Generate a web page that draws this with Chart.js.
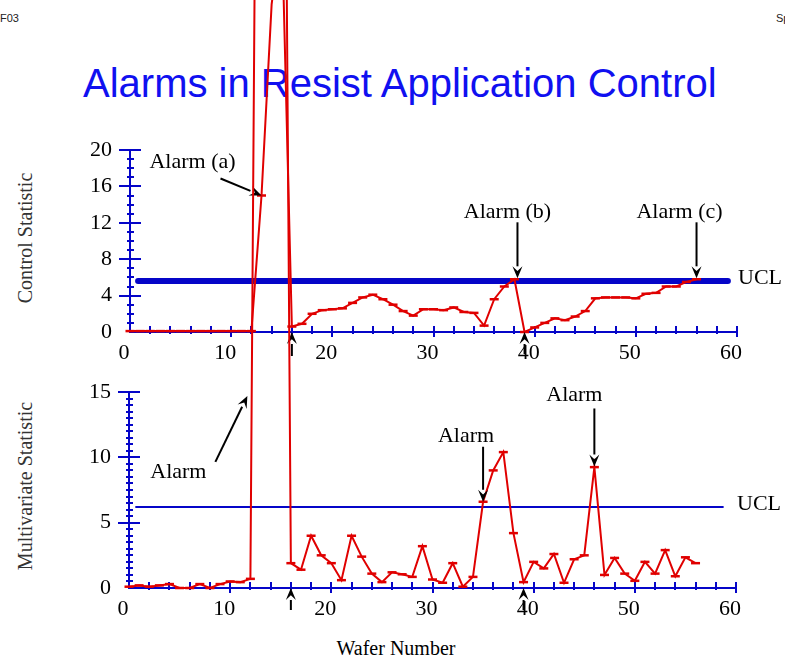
<!DOCTYPE html>
<html>
<head>
<meta charset="utf-8">
<title>Alarms in Resist Application Control</title>
<script src="https://cdn.jsdelivr.net/npm/chart.js@4.4.1/dist/chart.umd.min.js"></script>
<style>
  html, body { margin: 0; padding: 0; background: #fff; }
  #page { position: relative; width: 785px; height: 661px; overflow: hidden; font-family: "Liberation Serif", "Times New Roman", serif; }
  canvas { position: absolute; left: 0; top: 0; }
  .txt { position: absolute; white-space: nowrap; }
  #title { left: 83px; top: 63px; font: 40px/40px "Liberation Sans", Arial, sans-serif; color: #1010f0; }
  #corner-l { left: 0; top: 12px; font: 11px "Liberation Sans", Arial, sans-serif; color: #222; }
  #corner-r { left: 776px; top: 12px; font: 11px "Liberation Sans", Arial, sans-serif; color: #222; }
  .ytitle { font-size: 20px; color: #333; transform: translate(-50%, -50%) rotate(-90deg); }
  #xtitle { left: 396px; top: 648px; font-size: 20px; transform: translate(-50%, -50%); }
</style>
</head>
<body>
<div id="page">
  <div class="txt" id="title">Alarms in Resist Application Control</div>
  <div class="txt" id="corner-l">F03</div>
  <div class="txt" id="corner-r">Sp</div>
  <div class="txt ytitle" style="left:25px; top:238px;">Control Statistic</div>
  <div class="txt ytitle" style="left:25px; top:486px;">Multivariate Statistic</div>
  <div class="txt" id="xtitle">Wafer Number</div>
  <canvas id="cusumChart" width="785" height="661"></canvas>
  <canvas id="t2Chart" width="785" height="661"></canvas>
</div>
<script>
// wafer index along both x axes
const wafers = [0, 1, 2, 3, 4, 5, 6, 7, 8, 9, 10, 11, 12, 13, 14, 15, 16, 17, 18, 19,
  20, 21, 22, 23, 24, 25, 26, 27, 28, 29, 30, 31, 32, 33, 34, 35, 36, 37, 38, 39,
  40, 41, 42, 43, 44, 45, 46, 47, 48, 49, 50, 51, 52, 53, 54, 55, 56];

// upper chart: univariate control statistic
const cusumValues = [0.1, 0.1, 0.1, 0.1, 0.1, 0.1, 0.1, 0.1, 0.1, 0.1, 0.1, 0.1, 0.1,
  15, 36, 45, 0.6, 0.9, 2.0, 2.4, 2.5, 2.6, 3.2, 3.8, 4.1, 3.6, 3.0, 2.3, 1.8, 2.5,
  2.5, 2.4, 2.7, 2.2, 2.1, 0.7, 3.6, 5.0, 5.8, 0.0, 0.5, 1.0, 1.5, 1.3, 1.7, 2.3,
  3.7, 3.8, 3.8, 3.8, 3.7, 4.2, 4.3, 5.0, 5.0, 5.5, 5.8];
const cusumUcl = 5.6;
const cusumUclSpan = [0.8, 59.1];
const cusumTicks = [0, 4, 8, 12, 16, 20];

// lower chart: multivariate statistic
const t2Values = [0.1, 0.2, 0.1, 0.2, 0.3, 0.0, 0.0, 0.3, 0.0, 0.3, 0.5, 0.45, 0.7,
  110, 100, 110, 1.9, 1.4, 4.0, 2.5, 1.9, 0.6, 4.0, 2.4, 1.1, 0.45, 1.2, 1.05, 0.85,
  3.2, 0.65, 0.4, 1.9, 0.1, 0.85, 6.6, 9.0, 10.4, 4.2, 0.45, 2.0, 1.5, 2.6, 0.4,
  2.2, 2.5, 9.25, 1.0, 2.3, 1.1, 0.55, 2.0, 1.1, 2.9, 0.9, 2.35, 1.9];
const t2Ucl = 6.2;
const t2UclSpan = [0.7, 58.7];
const t2Ticks = [0, 5, 10, 15];

const waferTicks = [0, 10, 20, 30, 40, 50, 60];

// arrows: tip at (x, y) in data units, tail offset in pixels
const cusumArrows = [
  { x: 13, y: 15, dx: -41, dy: -17 },
  { x: 38.3, y: 5.9, dx: 0, dy: -56 },
  { x: 56, y: 5.9, dx: 0, dy: -56 },
  { x: 16, y: 0, dx: 0, dy: 24 },
  { x: 39, y: 0, dx: 0, dy: 22 }
];
const cusumLabels = [
  { text: 'Alarm (a)', x: 13, y: 15, dx: -69, dy: -33 },
  { text: 'Alarm (b)', x: 38.3, y: 5.9, dx: -10, dy: -66 },
  { text: 'Alarm (c)', x: 56, y: 5.9, dx: -17, dy: -66 }
];
const t2Arrows = [
  { x: 11.7, y: 14.7, dx: -32, dy: 66 },
  { x: 35, y: 6.6, dx: 0, dy: -55 },
  { x: 46, y: 9.3, dx: 0, dy: -58 },
  { x: 16, y: 0, dx: 0, dy: 22 },
  { x: 39, y: 0, dx: 0, dy: 22 }
];
const t2Labels = [
  { text: 'Alarm', x: 11.7, y: 14.7, dx: -69, dy: 76 },
  { text: 'Alarm', x: 35, y: 6.6, dx: -17, dy: -66 },
  { text: 'Alarm', x: 46, y: 9.3, dx: -20, dy: -71 }
];

const red = '#e00000';
const axisBlue = '#0505c8';
const serif = '"Liberation Serif", "Times New Roman", serif';

Chart.defaults.font.family = serif;
Chart.defaults.font.size = 22;
Chart.defaults.color = '#000';

function fixSize(size) {
  return (scale) => {
    if (scale.isHorizontal()) scale.height = size;
    else scale.width = size;
    scale.paddingLeft = scale.paddingRight = scale.paddingTop = scale.paddingBottom = 0;
  };
}

function drawArrow(ctx, sx, sy, tx, ty) {
  const ang = Math.atan2(ty - sy, tx - sx);
  const len = 12, half = 5;
  const bx = tx - len * Math.cos(ang), by = ty - len * Math.sin(ang);
  ctx.beginPath();
  ctx.moveTo(sx, sy);
  ctx.lineTo(bx, by);
  ctx.stroke();
  ctx.beginPath();
  ctx.moveTo(tx, ty);
  ctx.lineTo(bx + half * Math.sin(ang), by - half * Math.cos(ang));
  ctx.lineTo(tx - 0.6 * len * Math.cos(ang), ty - 0.6 * len * Math.sin(ang));
  ctx.lineTo(bx - half * Math.sin(ang), by + half * Math.cos(ang));
  ctx.closePath();
  ctx.fill();
}

// small tick marks crossing the axes, longer ones at the labelled values
function axisMarks(xStep, xMajor, yStep, yMajor) {
  return {
    id: 'axisMarks',
    beforeDatasetsDraw(chart) {
      const { ctx, scales: { x, y } } = chart;
      ctx.save();
      ctx.strokeStyle = axisBlue;
      ctx.lineWidth = 2;
      ctx.beginPath();
      for (let i = 1; i * xStep <= x.max; i++) {
        const v = i * xStep;
        const px = Math.round(x.getPixelForValue(v));
        const major = v % xMajor === 0;
        ctx.moveTo(px, x.top - 6);
        ctx.lineTo(px, x.top + (major ? 5 : 2));
      }
      for (let i = 1; i * yStep <= y.max + 1e-6; i++) {
        const v = i * yStep;
        const py = Math.round(y.getPixelForValue(v));
        const r = v / yMajor;
        const major = Math.abs(r - Math.round(r)) < 1e-6;
        ctx.moveTo(y.right - (major ? 11 : 3), py);
        ctx.lineTo(y.right + (major ? 11 : 4), py);
      }
      ctx.stroke();
      ctx.restore();
    }
  };
}

function alarmNotes(arrows, labels, ucl) {
  return {
    id: 'alarmNotes',
    afterDraw(chart) {
      const { ctx, scales: { x, y } } = chart;
      ctx.save();
      ctx.fillStyle = '#000';
      ctx.strokeStyle = '#000';
      ctx.lineWidth = 2;
      arrows.forEach((a) => {
        const tx = x.getPixelForValue(a.x), ty = y.getPixelForValue(a.y);
        drawArrow(ctx, tx + a.dx, ty + a.dy, tx, ty);
      });
      ctx.font = '22px ' + serif;
      ctx.textAlign = 'center';
      ctx.textBaseline = 'middle';
      labels.forEach((l) => {
        ctx.fillText(l.text, x.getPixelForValue(l.x) + l.dx, y.getPixelForValue(l.y) + l.dy);
      });
      ctx.textAlign = 'left';
      ctx.fillText('UCL', x.right + 1, y.getPixelForValue(ucl) - 3);
      ctx.restore();
    }
  };
}

function buildChart(id, values, ucl, uclSpan, uclWidth, yTicks, yMinor, pad, arrows, labels) {
  const yMax = yTicks[yTicks.length - 1];
  return new Chart(document.getElementById(id), {
    type: 'line',
    data: {
      datasets: [
        {
          data: wafers.map((w, i) => ({ x: w, y: values[i] })),
          borderColor: red,
          borderWidth: 2,
          pointStyle: 'line',
          pointRadius: 4.5,
          pointBorderWidth: 2.5,
          pointBorderColor: red,
          tension: 0,
          clip: false
        },
        {
          data: [{ x: uclSpan[0], y: ucl }, { x: uclSpan[1], y: ucl }],
          borderColor: axisBlue,
          borderWidth: uclWidth,
          borderCapStyle: 'round',
          pointRadius: 0
        }
      ]
    },
    options: {
      responsive: false,
      animation: false,
      events: [],
      layout: { padding: pad },
      plugins: { legend: { display: false }, tooltip: { enabled: false } },
      scales: {
        x: {
          type: 'linear',
          min: 0,
          max: 60,
          grid: { display: false, drawTicks: false },
          border: { display: true, color: axisBlue, width: 2 },
          afterBuildTicks: (s) => { s.ticks = waferTicks.map((v) => ({ value: v })); },
          ticks: { padding: 8, labelOffset: -6, maxRotation: 0, autoSkip: false, callback: (v) => String(v) },
          afterFit: fixSize(30)
        },
        y: {
          type: 'linear',
          min: 0,
          max: yMax,
          grid: { display: false, drawTicks: false },
          border: { display: true, color: axisBlue, width: 2 },
          afterBuildTicks: (s) => { s.ticks = yTicks.map((v) => ({ value: v })); },
          ticks: { padding: 18, autoSkip: false, callback: (v) => String(v) },
          afterFit: fixSize(40)
        }
      }
    },
    plugins: [axisMarks(2, 10, yMinor, yTicks[1]), alarmNotes(arrows, labels, ucl)]
  });
}

buildChart('cusumChart', cusumValues, cusumUcl, cusumUclSpan, 6, cusumTicks, 1,
  { left: 90, right: 48, top: 150, bottom: 299 }, cusumArrows, cusumLabels);
buildChart('t2Chart', t2Values, t2Ucl, t2UclSpan, 2, t2Ticks, 0.5,
  { left: 89, right: 49, top: 392, bottom: 43 }, t2Arrows, t2Labels);
</script>
</body>
</html>
